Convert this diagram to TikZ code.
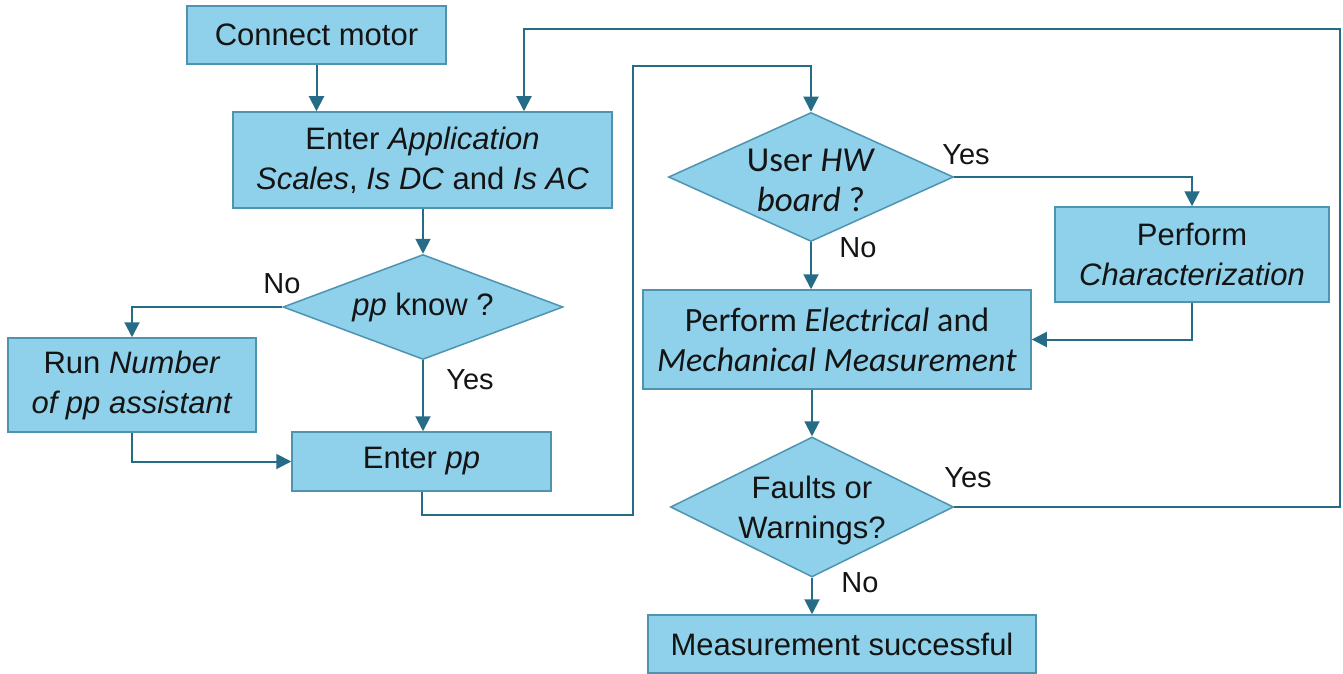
\documentclass[tikz,border=0pt]{standalone}
\usepackage{fontspec}
\setmainfont{Liberation Sans}
\newfontfamily\calib{Carlito}
\usetikzlibrary{shapes.geometric,arrows.meta}
\definecolor{boxc}{RGB}{143,208,234}
\definecolor{bordc}{RGB}{78,148,176}
\definecolor{linec}{RGB}{38,108,135}
\definecolor{txtc}{RGB}{20,20,20}
\tikzset{
  box/.style={draw=bordc, fill=boxc, line width=1.5pt, inner sep=0pt, align=center, rectangle, text=txtc},
  dia/.style={draw=bordc, fill=boxc, line width=1.5pt, inner sep=0pt, diamond},
  conn/.style={draw=linec, line width=2pt, -{Triangle[length=15pt,width=15pt]}},
  yn/.style={text=txtc, font=\fontsize{29}{34}\selectfont, inner sep=0pt}
}
\begin{document}
\begin{tikzpicture}[x=1pt,y=-1pt, font=\fontsize{31}{40}\selectfont]
\useasboundingbox (0,0) rectangle (1343,674);
\node[box, minimum width=259pt, minimum height=58pt] (cm) at (316.5,35) {Connect motor};
\node[box, minimum width=379pt, minimum height=96pt] (ea) at (422.5,160) {Enter \textit{Application}\\\textit{Scales}, \textit{Is DC} and \textit{Is AC}};
\node[dia, minimum width=280pt, minimum height=105pt, label={[text=txtc]center:\textit{pp} know ?}] (pk) at (423,307) {};
\node[box, minimum width=248pt, minimum height=94pt] (run) at (132,385) {Run \textit{Number}\\\textit{of pp assistant}};
\node[box, minimum width=259pt, minimum height=59pt] (ep) at (421.5,461.5) {Enter \textit{pp}};
\node[dia, minimum width=285pt, minimum height=129pt, label={[text=txtc, align=center, yshift=-3pt, font=\calib\fontsize{35}{40}\selectfont]center:User \textit{HW}\\\textit{board} ?}] (hw) at (811,177) {};
\node[box, minimum width=274pt, minimum height=95pt] (pc) at (1192,254.5) {Perform\\\textit{Characterization}};
\node[box, minimum width=388pt, minimum height=99pt, font=\calib\fontsize{34}{40}\selectfont] (em) at (837,339.5) {Perform \textit{Electrical} and\\\textit{Mechanical Measurement}};
\node[dia, minimum width=283pt, minimum height=140pt, label={[text=txtc, align=center, yshift=-3pt]center:Faults or\\Warnings?}] (fw) at (812,507) {};
\node[box, minimum width=388pt, minimum height=58pt] (ms) at (842,644) {Measurement successful};

\node[yn] (l1) at (282,284) {No};
\node[yn] (l2) at (470,380) {Yes};
\node[yn] (l3) at (966,155) {Yes};
\node[yn] (l4) at (858,248) {No};
\node[yn] (l5) at (968,478) {Yes};
\node[yn] (l6) at (860,583) {No};

\coordinate (c1) at (633,515);
\coordinate (c2) at (633,66);
\coordinate (c3) at (1340,29);
\coordinate (c4) at (524,29);

\draw[conn] (cm.south) -- (cm.south |- ea.north);
\draw[conn] (ea.south -| pk.north) -- (pk.north);
\draw[conn] (pk.west) -| (run.north);
\draw[conn] (pk.south) -- (pk.south |- ep.north);
\draw[conn] (run.south) |- (ep.west);
\draw[conn] (ep.south) |- (c1) -- (c2) -| (hw.north);
\draw[conn] (hw.east) -| (pc.north);
\draw[conn] (hw.south) -- (hw.south |- em.north);
\draw[conn] (pc.south) |- (em.east);
\draw[conn] (fw.north |- em.south) -- (fw.north);
\draw[conn] (fw.east) -| (c3) -- (c4) -- (c4 |- ea.north);
\draw[conn] (fw.south) -- (fw.south |- ms.north);
\end{tikzpicture}
\end{document}
